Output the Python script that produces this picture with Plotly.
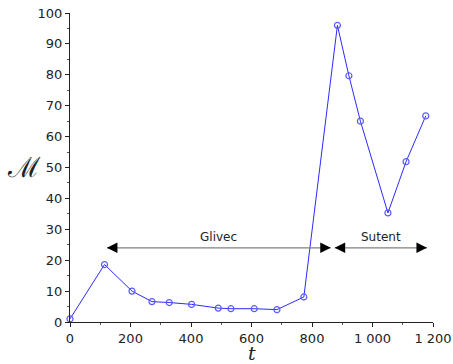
import plotly.graph_objects as go

# data
t_vals = [0, 114, 205, 271, 328, 402, 490, 532, 609, 684, 773, 884, 922, 960, 1051, 1111, 1176]
m_vals = [1.0, 18.6, 10.0, 6.6, 6.3, 5.7, 4.5, 4.3, 4.3, 4.0, 8.1, 96.0, 79.7, 65.0, 35.3, 51.9, 66.7]

x_ticks = [0, 200, 400, 600, 800, 1000, 1200]
x_tick_text = ["0", "200", "400", "600", "800", "1 000", "1 200"]
y_ticks = [0, 10, 20, 30, 40, 50, 60, 70, 80, 90, 100]

# treatment periods (start, end, label)
periods = [("Glivec", 122, 862), ("Sutent", 875, 1180)]
arrow_level = 24

fig = go.Figure()

fig.add_trace(go.Scatter(
    x=t_vals, y=m_vals, mode="lines+markers",
    line=dict(color="#2b2bff", width=1),
    marker=dict(symbol="circle-open", size=6, color="#5a5aff", line=dict(width=1.2)),
    showlegend=False, cliponaxis=False,
))

for label, start, end in periods:
    fig.add_shape(type="line", x0=start, x1=end, y0=arrow_level, y1=arrow_level,
                  xref="x", yref="y", line=dict(color="#808080", width=1.3))
    for tip, off in ((start, 10), (end, -10)):
        fig.add_annotation(x=tip, y=arrow_level, ax=off, ay=0, text="",
                           showarrow=True, arrowhead=2, arrowsize=2.1,
                           arrowwidth=1, arrowcolor="black", standoff=0)
    fig.add_annotation(x=(start + end) / 2, y=arrow_level, text=label,
                       showarrow=False, yshift=11,
                       font=dict(family="DejaVu Sans", size=12, color="#222"))

# axis titles placed as annotations (unrotated, as in the reference)
fig.add_annotation(x=0.5, y=0, xref="paper", yref="paper", text="<i>t</i>",
                   showarrow=False, yanchor="top", yshift=-19, borderpad=0,
                   font=dict(family="DejaVu Serif", size=19, color="#222"))
fig.add_annotation(x=0, y=0.5, xref="paper", yref="paper", text="ℳ",
                   showarrow=False, xanchor="center", xshift=-46,
                   font=dict(family="DejaVu Serif", size=28, color="#222"))

fig.update_layout(
    width=453, height=364,
    margin=dict(l=70, r=20, t=13, b=42),
    plot_bgcolor="white", paper_bgcolor="white",
    font=dict(family="DejaVu Sans", size=13, color="#222"),
)
fig.update_xaxes(
    range=[0, 1200], tickvals=x_ticks, ticktext=x_tick_text, automargin=False,
    showgrid=False, zeroline=False, showline=True, linecolor="#222", linewidth=1,
    ticks="outside", ticklen=4, tickcolor="#222",
    minor=dict(dtick=100, ticks="outside", ticklen=2, tickcolor="#555"),
)
fig.update_yaxes(
    range=[0, 100], tickvals=y_ticks, automargin=False,
    showgrid=False, zeroline=False, showline=True, linecolor="#222", linewidth=1,
    ticks="outside", ticklen=4, tickcolor="#222",
    minor=dict(dtick=5, ticks="outside", ticklen=2, tickcolor="#555"),
)

fig.write_html("out.html")
